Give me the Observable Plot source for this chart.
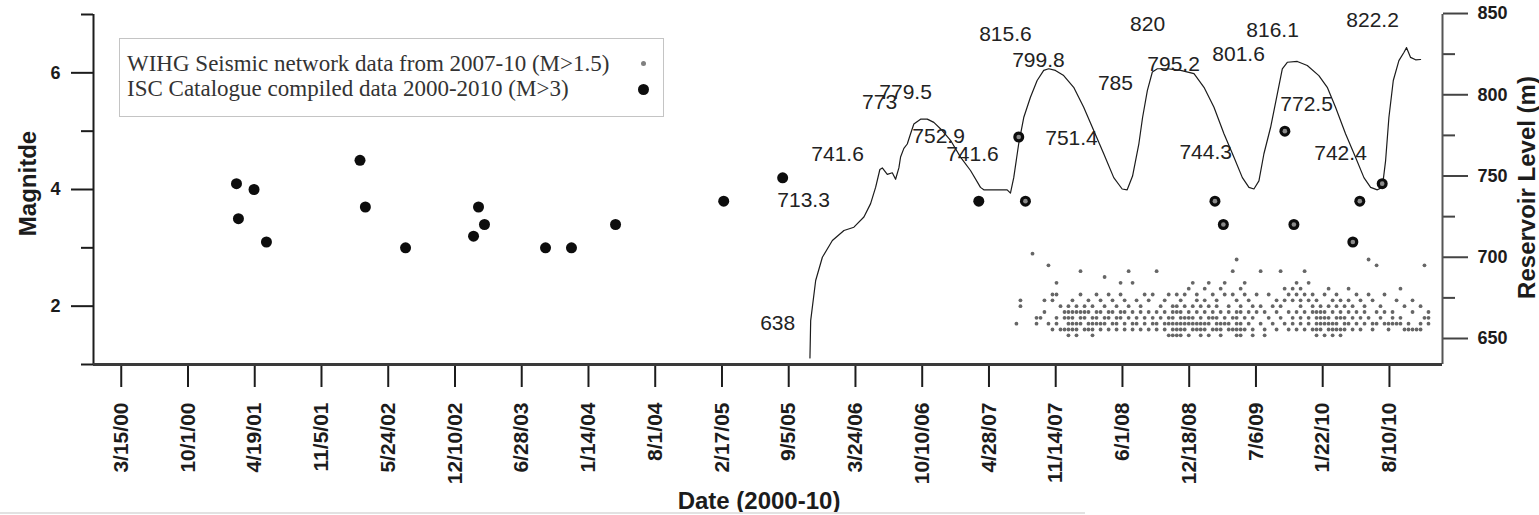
<!DOCTYPE html>
<html>
<head>
<meta charset="utf-8">
<script src="https://cdn.jsdelivr.net/npm/d3@7"></script>
<script src="https://cdn.jsdelivr.net/npm/@observablehq/plot@0.6"></script>
<style>
html,body{margin:0;padding:0;background:#fff;}
#wrap{position:relative;width:1539px;height:515px;overflow:hidden;background:#fff;}
#legend{position:absolute;left:119px;top:38px;width:545px;height:79px;border:1.5px solid #c4c4c4;box-sizing:border-box;
  font-family:'Liberation Serif','Times New Roman',serif;font-size:23px;color:#333;}
#legend .row{position:absolute;left:7px;white-space:nowrap;line-height:25px;}
#legend .mk{position:absolute;border-radius:50%;}
#strip{position:absolute;left:0;top:512px;width:1085px;height:2px;background:#e2e2e2;}
</style>
</head>
<body>
<div id="wrap">
  <div id="chart"></div>
  <div id="legend"></div>
  <div id="strip"></div>
</div>
<script>
// ---------- DATA ----------
// x-axis tick labels (every 200 days)
const xTickLabels = ["3/15/00","10/1/00","4/19/01","11/5/01","5/24/02","12/10/02","6/28/03","1/14/04","8/1/04","2/17/05",
  "9/5/05","3/24/06","10/10/06","4/28/07","11/14/07","6/1/08","12/18/08","7/6/09","1/22/10","8/10/10"];
// axis extents
const xExtentYear = [1999.975, 2011.041];   // decimal years
const magDomain = [1, 7];
const magMajor = [2, 4, 6];
const magMinor = [1, 3, 5, 7];
const levelDomain = [634.0, 849.4];         // reservoir level spanning the same frame height
const levelMajor = [650, 700, 750, 800, 850];
const levelMinor = [675, 725, 775, 825];

// Reservoir level (m), decimal year
const reservoirYear = [2005.851, 2005.857, 2005.898, 2005.953, 2006.035, 2006.130, 2006.212, 2006.294, 2006.349, 2006.390,
  2006.425, 2006.445, 2006.486, 2006.527, 2006.554, 2006.581, 2006.595, 2006.622, 2006.650, 2006.677,
  2006.704, 2006.759, 2006.814, 2006.868, 2006.937, 2007.005, 2007.087, 2007.169, 2007.251, 2007.278,
  2007.470, 2007.497, 2007.524, 2007.565, 2007.606, 2007.661, 2007.716, 2007.770, 2007.811, 2007.866,
  2007.934, 2008.016, 2008.098, 2008.180, 2008.262, 2008.344, 2008.413, 2008.454, 2008.498, 2008.550,
  2008.580, 2008.619, 2008.660, 2008.701, 2008.783, 2008.892, 2009.001, 2009.083, 2009.165, 2009.247,
  2009.329, 2009.398, 2009.452, 2009.493, 2009.534, 2009.575, 2009.630, 2009.685, 2009.726, 2009.767,
  2009.849, 2009.931, 2010.026, 2010.095, 2010.163, 2010.245, 2010.327, 2010.396, 2010.451, 2010.506,
  2010.547, 2010.574, 2010.601, 2010.637, 2010.683, 2010.724, 2010.746, 2010.779, 2010.820, 2010.861];
const reservoirLevel = [638, 661, 685.7, 700, 710.3, 716.5, 718.5, 724.8, 733, 743,
  754, 755, 751, 752, 748, 755, 761.7, 767, 769.7, 776,
  782, 785, 785, 783, 778, 772, 761.6, 753.4, 743, 741.5,
  741.5, 739.5, 749, 770, 786, 798.5, 808.8, 815, 816, 815,
  811.8, 804.6, 792.3, 778, 763.7, 749, 742, 741.5, 750, 770,
  786, 802.6, 814, 816, 816, 815, 813, 804.6, 792.3, 776,
  761.6, 749, 743, 742, 747, 763.7, 780, 800.6, 816, 820,
  820.5, 818, 811.8, 804.6, 792.3, 776, 761.6, 749, 743, 741.5,
  743, 759.5, 786, 808.8, 821, 826, 829, 823, 821.5, 821.7];

// ISC catalogue events (M>3)
const iscYear = [2001.146, 2001.162, 2001.290, 2001.392, 2002.160, 2002.204, 2002.534, 2003.092, 2003.133, 2003.182,
  2003.683, 2003.896, 2004.257, 2005.143, 2005.627, 2007.237, 2007.565, 2007.620, 2009.173, 2009.242,
  2009.747, 2009.821, 2010.305, 2010.362, 2010.546];
const iscMag = [4.1, 3.5, 4.0, 3.1, 4.5, 3.7, 3.0, 3.2, 3.7, 3.4,
  3.0, 3.0, 3.4, 3.8, 4.2, 3.8, 4.9, 3.8, 3.8, 3.4,
  5.0, 3.4, 3.1, 3.8, 4.1];

// WIHG network events (M>1.5): [decimal year, magnitudes recorded around that date]
const wihgColumns = [
  [2007.546,[1.7]],[2007.579,[2.0,2.1]],[2007.678,[2.9]],[2007.711,[1.7,1.8]],[2007.744,[1.8]],
  [2007.776,[1.9,2.1]],[2007.809,[2.7,1.7]],[2007.842,[2.2,2.1,1.6]],[2007.875,[2.4,2.2,1.8,1.7]],[2007.908,[2.0,1.6]],
  [2007.941,[1.9,1.8,1.6]],[2007.973,[2.0,1.9,1.8,1.7,1.6,1.5]],[2008.006,[2.1,1.9,1.8,1.7,1.6]],[2008.039,[2.0,1.9,1.7,1.6,1.5]],
  [2008.072,[2.6,2.2,1.9,1.8,1.7]],[2008.105,[2.0,1.9,1.8,1.6]],[2008.137,[2.1,1.9,1.7,1.6]],[2008.170,[2.0,1.8,1.7,1.6,1.5]],
  [2008.203,[2.2,1.9,1.8,1.7]],[2008.236,[2.1,1.9,1.7,1.6]],[2008.269,[2.5,2.0,1.8,1.7]],[2008.302,[2.2,1.9,1.8,1.6]],
  [2008.334,[2.1,1.9,1.7]],[2008.367,[2.0,1.8,1.7,1.6]],[2008.400,[2.4,2.2,1.9,1.8]],[2008.433,[2.1,1.9,1.7,1.6]],
  [2008.466,[2.6,2.0,1.8]],[2008.498,[2.4,1.9,1.7,1.6]],[2008.531,[2.1,1.8,1.7]],[2008.564,[2.0,1.9,1.6]],
  [2008.597,[2.2,1.8,1.7]],[2008.630,[2.1,1.9,1.6]],[2008.663,[2.2,1.8,1.7]],[2008.695,[2.6,1.9,1.7,1.6]],
  [2008.728,[2.0,1.8]],[2008.761,[2.1,1.9,1.7,1.6]],[2008.794,[2.2,1.8,1.7,1.5]],[2008.827,[2.0,1.9,1.8,1.7,1.6,1.5]],
  [2008.860,[2.2,2.0,1.9,1.7,1.6,1.5]],[2008.892,[2.1,1.9,1.8,1.7,1.6,1.5]],[2008.925,[2.2,2.0,1.8,1.7,1.6]],
  [2008.958,[2.3,1.9,1.8,1.7,1.5]],[2008.991,[2.4,2.0,1.8,1.7,1.6]],[2009.024,[2.2,2.1,1.9,1.7,1.6]],
  [2009.056,[2.0,1.8,1.7,1.6,1.5]],[2009.089,[2.3,2.1,1.9,1.7,1.6]],[2009.122,[2.4,2.0,1.8,1.7,1.5]],
  [2009.155,[2.2,1.9,1.8,1.6]],[2009.187,[2.1,2.0,1.8,1.7,1.6]],[2009.220,[2.3,1.9,1.7,1.6,1.5]],
  [2009.253,[2.4,2.2,1.8,1.7]],[2009.286,[2.0,1.9,1.7,1.6]],[2009.319,[2.6,2.2,1.8,1.6]],
  [2009.351,[2.8,2.1,1.9,1.8,1.7,1.6,1.5]],[2009.384,[2.3,2.0,1.9,1.7,1.6,1.5]],[2009.417,[2.4,2.2,1.8,1.6]],
  [2009.450,[2.1,1.9,1.7]],[2009.483,[2.0,1.8,1.6,1.5]],[2009.515,[2.2,1.9]],[2009.548,[2.6,2.0,1.7]],
  [2009.581,[1.9,1.6,1.5]],[2009.614,[2.2,1.8]],[2009.647,[2.0,1.7]],[2009.679,[2.1,1.9,1.6]],
  [2009.712,[2.6,2.0,1.8]],[2009.745,[2.3,2.1,1.7]],[2009.778,[2.2,1.9,1.6]],[2009.811,[2.3,2.1,1.8,1.7]],
  [2009.843,[2.4,2.2,1.9,1.6]],[2009.876,[2.3,2.1,2.0,1.8,1.7]],[2009.909,[2.6,2.2,1.9,1.6]],
  [2009.942,[2.4,2.1,1.8,1.7]],[2009.975,[2.2,2.0,1.9,1.6]],[2010.007,[2.1,1.9,1.8,1.7,1.6,1.5]],
  [2010.040,[2.0,1.9,1.8,1.7,1.6]],[2010.073,[2.2,1.9,1.8,1.7,1.5]],[2010.106,[2.3,2.0,1.8,1.7,1.6]],
  [2010.139,[2.1,1.9,1.7,1.6,1.5]],[2010.171,[2.2,2.0,1.8,1.7,1.6]],[2010.204,[2.1,1.9,1.8,1.6,1.5]],
  [2010.237,[2.0,1.8,1.7,1.6]],[2010.270,[2.3,2.1,1.9,1.7]],[2010.303,[2.0,1.8,1.6]],[2010.335,[2.2,1.9,1.7]],
  [2010.368,[2.1,1.8,1.6]],[2010.401,[2.0,1.9,1.7]],[2010.434,[2.8,2.2,1.8]],[2010.467,[2.1,1.7,1.6]],
  [2010.500,[2.7,1.9,1.7]],[2010.532,[2.0,1.8]],[2010.565,[2.2,1.9,1.7]],[2010.598,[1.7,1.6]],
  [2010.631,[1.9,1.8,1.7]],[2010.664,[2.1,1.7]],[2010.696,[2.3,1.8,1.7]],[2010.729,[2.0,1.6]],
  [2010.762,[1.7,1.6]],[2010.795,[2.1,1.9,1.6]],[2010.828,[1.6]],[2010.861,[2.0,1.7,1.6]],
  [2010.893,[2.7,1.8]],[2010.926,[1.9,1.8,1.7]]
];

// Reservoir level annotations: label, decimal year, level (m)
const noteLabels = ["638","713.3","741.6","773","779.5","752.9","741.6","815.6","799.8","751.4",
  "785","820","795.2","744.3","801.6","816.1","772.5","742.4","822.2"];
const noteYear = [2005.586, 2005.799, 2006.078, 2006.423, 2006.636, 2006.907, 2007.185, 2007.456, 2007.727, 2007.998,
  2008.358, 2008.621, 2008.834, 2009.097, 2009.367, 2009.646, 2009.925, 2010.204, 2010.467];
const noteLevel = [659.2, 734.9, 763.2, 795.2, 801.4, 774.3, 763.2, 837.1, 821.1, 773.1,
  806.9, 843.4, 818.8, 764.5, 824.9, 839.7, 794.0, 763.8, 845.8];

const legendItems = ["WIHG Seismic network data from 2007-10 (M>1.5)", "ISC Catalogue compiled data 2000-2010 (M>3)"];
const titleX = "Date (2000-10)", titleY = "Magnitde", titleY2 = "Reservoir Level (m)";

// ---------- BUILD ----------
const yearToDate = y => { const yr = Math.floor(y); const a = Date.UTC(yr,0,1), b = Date.UTC(yr+1,0,1); return new Date(a + (y-yr)*(b-a)); };
const parseTick = s => { const [m,d,yy] = s.split("/").map(Number); return new Date(Date.UTC(2000+yy, m-1, d)); };
const tickDates = xTickLabels.map(parseTick);
const tickLabelByTime = new Map(tickDates.map((d,i) => [+d, xTickLabels[i]]));
const xDomain = xExtentYear.map(yearToDate);
const toMag = d3.scaleLinear().domain(levelDomain).range(magDomain);

const reservoir = reservoirYear.map((t,i) => ({date: yearToDate(t), mag: toMag(reservoirLevel[i])}));
const isc = iscYear.map((t,i) => ({year: t, date: yearToDate(t), mag: iscMag[i]}));
const wihg = wihgColumns.flatMap(([t, ms]) => ms.map(m => ({date: yearToDate(t), mag: m})));
const wihgStart = d3.min(wihgColumns, d => d[0]);
const notes = noteLabels.map((s,i) => ({label: s, date: yearToDate(noteYear[i]), mag: toMag(noteLevel[i])}));

const ink = "#1c1c1c";
const chart = Plot.plot({
  width: 1539, height: 515,
  marginTop: 14, marginBottom: 151, marginLeft: 93, marginRight: 97,
  style: {fontFamily: "'Liberation Sans', Arial, sans-serif", background: "#fff", color: ink, overflow: "visible"},
  x: {type: "utc", domain: xDomain},
  y: {domain: magDomain},
  marks: [
    Plot.axisX(tickDates, {anchor: "bottom", tickSize: 23, tickPadding: 15, tickRotate: -90,
      tickFormat: d => tickLabelByTime.get(+d), fontSize: 21, fontWeight: "bold", strokeWidth: 2, label: null}),
    Plot.axisY(magMajor, {anchor: "left", tickSize: 22, tickPadding: 11, tickFormat: d3.format("d"),
      fontSize: 18, fontWeight: "bold", strokeWidth: 2, label: null}),
    Plot.axisY(magMinor, {anchor: "left", tickSize: 12, tickFormat: () => "", strokeWidth: 2, label: null}),
    Plot.axisY(levelMajor.map(toMag), {anchor: "right", tickSize: 25, tickPadding: 10,
      tickFormat: m => d3.format(".0f")(toMag.invert(m)), fontSize: 18, fontWeight: "bold", strokeWidth: 2, stroke: "#444", label: null}),
    Plot.axisY(levelMinor.map(toMag), {anchor: "right", tickSize: 12, tickFormat: () => "", strokeWidth: 2, stroke: "#444", label: null}),
    Plot.ruleX([xDomain[0]], {stroke: ink, strokeWidth: 2}),
    Plot.ruleX([xDomain[1]], {stroke: "#555", strokeWidth: 2}),
    Plot.ruleY([magDomain[0]], {stroke: "#3a3a3a", strokeWidth: 3}),
    Plot.line(reservoir, {x: "date", y: "mag", stroke: ink, strokeWidth: 1.2}),
    Plot.dot(wihg, {x: "date", y: "mag", r: 1.9, fill: "#666"}),
    Plot.dot(isc, {x: "date", y: "mag", r: 5.5, fill: "#0d0d0d"}),
    Plot.dot(isc.filter(d => d.year >= wihgStart), {x: "date", y: "mag", r: 2.3, fill: "#8a8a8a"}),
    Plot.text(notes, {x: "date", y: "mag", text: "label", fontSize: 21, fill: "#222"}),
    Plot.text([titleY], {text: d => d, frameAnchor: "left", textAnchor: "middle", lineAnchor: "middle",
      dx: -65, dy: -6, rotate: -90, fontSize: 24, fontWeight: "bold"}),
    Plot.text([titleY2], {text: d => d, frameAnchor: "right", textAnchor: "middle", lineAnchor: "middle",
      dx: 85, dy: -2, rotate: -90, fontSize: 24, fontWeight: "bold"}),
    Plot.text([titleX], {text: d => d, frameAnchor: "bottom", textAnchor: "middle", lineAnchor: "middle",
      dx: -9, dy: 137, fontSize: 24, fontWeight: "bold"})
  ]
});
document.getElementById("chart").appendChild(chart);

// legend
const lg = document.getElementById("legend");
const rowTops = [12, 37];
legendItems.forEach((s, i) => {
  const r = document.createElement("div");
  r.className = "row"; r.style.top = rowTops[i] + "px"; r.textContent = s;
  lg.appendChild(r);
});
const mk1 = document.createElement("div");
mk1.className = "mk"; Object.assign(mk1.style, {left: "521px", top: "22px", width: "5px", height: "5px", background: "#808080"});
const mk2 = document.createElement("div");
mk2.className = "mk"; Object.assign(mk2.style, {left: "518px", top: "45px", width: "11px", height: "11px", background: "#0d0d0d"});
lg.appendChild(mk1); lg.appendChild(mk2);
</script>
</body>
</html>
